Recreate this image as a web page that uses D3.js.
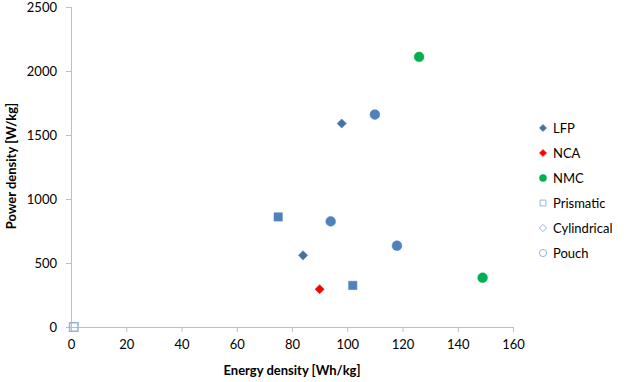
<!DOCTYPE html>
<html>
<head>
<meta charset="utf-8">
<script src="https://cdn.jsdelivr.net/npm/d3@7"></script>
<style>
  body { margin: 0; background: #fff; }
  text { font-family: Lato, "Open Sans", sans-serif; fill: #000; }
</style>
</head>
<body>
<svg width="624" height="382"></svg>
<script>
// legend entries
var legendNames = ["LFP", "NCA", "NMC", "Prismatic", "Cylindrical", "Pouch"];
var legendShapes = ["diamond", "diamond", "circle", "square", "diamond", "circle"];
var legendFilled = [true, true, true, false, false, false];

// cells
var energy = [126, 110, 98, 75, 94, 118, 84, 90, 102, 149, 1];
var power  = [2110, 1660, 1590, 860, 825, 635, 560, 295, 325, 385, 0];
var shape  = ["circle", "circle", "diamond", "square", "circle", "circle", "diamond", "diamond", "square", "circle", "square"];
var colorKey = ["NMC", "blue", "LFP", "blue", "blue", "blue", "LFP", "NCA", "blue", "NMC", "hollow"];

var xTicks = [0, 20, 40, 60, 80, 100, 120, 140, 160];
var yTicks = [0, 500, 1000, 1500, 2000, 2500];

var colors = {
  LFP: "#4472A8", NCA: "#FF0000", NMC: "#00B050",
  blue: "#4F81BD", hollow: "#95B3D7",
  Prismatic: "#95B3D7", Cylindrical: "#95B3D7", Pouch: "#95B3D7"
};

var svg = d3.select("svg");
var x = d3.scaleLinear().domain([0, 160]).range([71, 513]);
var y = d3.scaleLinear().domain([0, 2500]).range([327, 7]);

var axisColor = "#BFBFBF";

var gx = svg.append("g").attr("transform", "translate(0,327)")
  .call(d3.axisBottom(x).tickValues(xTicks).tickFormat(d3.format("d")).tickSize(5).tickPadding(8));
var gy = svg.append("g").attr("transform", "translate(71,0)")
  .call(d3.axisLeft(y).tickValues(yTicks).tickFormat(d3.format("d")).tickSize(5).tickPadding(9));

[gx, gy].forEach(function(g) {
  g.selectAll("path, line").attr("stroke", axisColor);
  g.select(".domain").attr("d", g === gx ? "M71,0.5H513" : "M0.5,7V327");
  g.selectAll("text").attr("font-size", 13).attr("fill", "#000")
    .style("font-family", "Lato, 'Open Sans', sans-serif");
});

svg.append("text")
  .attr("x", 292).attr("y", 375)
  .attr("text-anchor", "middle")
  .attr("font-size", 13).attr("font-weight", "bold")
  .text("Energy density [Wh/kg]");

svg.append("text")
  .attr("transform", "translate(16,166) rotate(-90)")
  .attr("text-anchor", "middle")
  .attr("font-size", 13).attr("font-weight", "bold")
  .text("Power density [W/kg]");

// Excel style diamond: a square turned 45 degrees
var squareDiamond = {
  draw: function(ctx, size) {
    var r = Math.sqrt(size / 2);
    ctx.moveTo(0, -r); ctx.lineTo(r, 0); ctx.lineTo(0, r); ctx.lineTo(-r, 0); ctx.closePath();
  }
};

function symbolPath(s, size) {
  var t = s === "circle" ? d3.symbolCircle : s === "square" ? d3.symbolSquare : squareDiamond;
  return d3.symbol().type(t).size(size)();
}
var sizes = { circle: 75, square: 70, diamond: 42 };

var pts = energy.map(function(e, i) {
  return { e: e, p: power[i], s: shape[i], c: colorKey[i] };
});

svg.append("g").selectAll("path")
  .data(pts)
  .enter().append("path")
  .attr("transform", function(d) { return "translate(" + x(d.e) + "," + y(d.p) + ")"; })
  .attr("d", function(d) { return symbolPath(d.s, sizes[d.s]); })
  .attr("fill", function(d) { return d.c === "hollow" ? "none" : colors[d.c]; })
  .attr("stroke", function(d) { return colors[d.c]; })
  .attr("stroke-width", function(d) { return d.c === "hollow" ? 1.5 : 0.5; });

var leg = svg.append("g").selectAll("g")
  .data(legendNames)
  .enter().append("g")
  .attr("transform", function(d, i) { return "translate(543," + (128 + i * 25) + ")"; });

leg.append("path")
  .attr("d", function(d, i) {
    var s = legendShapes[i];
    return symbolPath(s, s === "diamond" ? 26 : s === "circle" ? 40 : 34);
  })
  .attr("fill", function(d, i) { return legendFilled[i] ? colors[d] : "none"; })
  .attr("stroke", function(d) { return colors[d]; })
  .attr("stroke-width", function(d, i) { return legendFilled[i] ? 0.5 : 1; });

leg.append("text")
  .attr("x", 10).attr("y", 4.5)
  .attr("font-size", 13)
  .text(function(d) { return d; });
</script>
</body>
</html>
